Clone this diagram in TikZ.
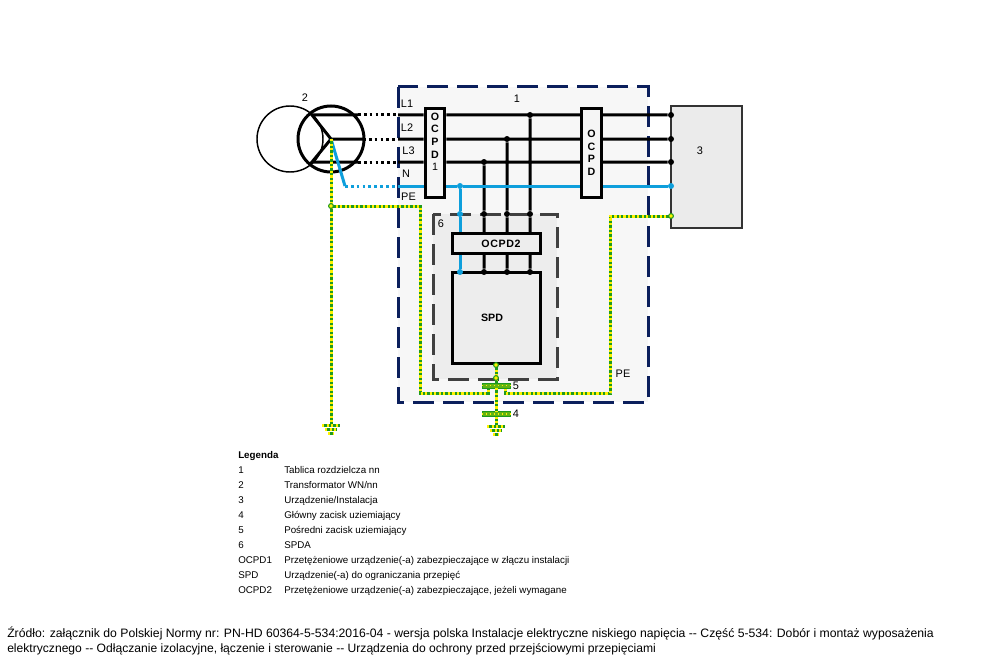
\documentclass[tikz,border=0pt]{standalone}
\usepackage{fontspec}
\setmainfont{Liberation Sans}
\definecolor{navyf}{HTML}{0B1F5C}
\definecolor{bluen}{HTML}{0E9FDC}
\definecolor{greenpe}{HTML}{1E9A1E}
\definecolor{yellowpe}{HTML}{FFF200}
\tikzset{
    box/.style={draw, line width=2.25pt, fill=black!4, inner sep=0pt, font=\bfseries\fontsize{8}{9.4}\selectfont, align=center},
    wire/.style={line width=2.25pt},
    open/.style={line width=2.25pt, dash pattern=on 2pt off 2.4pt},
    nwire/.style={line width=2.25pt, draw=bluen},
    pe/.style={line width=2.25pt, draw=yellowpe, dash pattern=on 1.7pt off 1.7pt,
        preaction={draw=greenpe, line width=2.25pt, dash pattern=on 1.7pt off 1.7pt, dash phase=1.7pt}},
    tap/.style={circle, fill=black, inner sep=0pt, minimum size=4.5pt},
    ntap/.style={tap, fill=bluen},
    petap/.style={circle, draw=greenpe, fill=yellowpe, line width=0.8pt, inner sep=0pt, minimum size=3.6pt},
    terminal/.style={rectangle, draw=greenpe, fill=greenpe!70!yellowpe, inner sep=0pt, minimum width=21pt, minimum height=3.6pt},
    lbl/.style={font=\fontsize{8.2}{10}\selectfont, inner sep=0pt},
    legend/.style={font=\fontsize{7.33}{8}\selectfont, inner sep=0pt, anchor=base west},
    foot/.style={inner sep=0pt, anchor=base west},
}
\begin{document}
\begin{tikzpicture}[x=0.75pt, y=-0.75pt]
    \useasboundingbox (0,0) rectangle (1000,667);
    % housings
    \draw[navyf, fill=black!3, line width=2.25pt, dash pattern=on 16pt off 6.5pt] (398,87) rectangle (648,402);
    \draw[black!75, fill=black!7, line width=2.25pt, dash pattern=on 15.5pt off 7pt] (433,214) rectangle (557,379);
    % transformer
    \node[circle, draw, line width=1.1pt, minimum size=49.5pt, inner sep=0pt] (tra) at (290,139) {};
    \node[circle, draw, line width=2.25pt, minimum size=49.5pt, inner sep=0pt] (trb) at (331,139) {};
    \coordinate (star) at (331,139);
    \coordinate (aa) at (312,115);
    \coordinate (ab) at (363,139);
    \coordinate (ac) at (312,162);
    \coordinate (ba) at (358,115);
    \coordinate (bb) at (363,139);
    \coordinate (bc) at (358,162);
    \coordinate (bn) at (345,186);
    \coordinate (ca) at (398,115);
    \coordinate (cb) at (398,139);
    \coordinate (cc) at (398,162);
    \coordinate (cn) at (398,186);
    % boxes
    \node[box, minimum width=14.8pt, minimum height=66.8pt] (ocpda) at (435,153) {};
    \node[box, minimum width=14.8pt, minimum height=66.8pt] (ocpdb) at (591.5,153) {O\\C\\P\\D};
    \node[box, fill=black!7, minimum width=66pt, minimum height=14.6pt] (ocpdc) at (496,243.7) {\hspace*{7.5pt}\addfontfeature{LetterSpace=6}OCPD2};
    \node[box, fill=black!7, minimum width=66pt, minimum height=68.5pt] (spd) at (496,318.3) {SPD\hspace*{6pt}};
    \node[rectangle, draw=black!80, line width=1.1pt, fill=black!8, minimum width=53.25pt, minimum height=91.5pt, inner sep=0pt] (dev) at (706.5,167) {};
    \node[box, draw=none, fill=none, anchor=north] (ocpdtxt) at (435,111.5) {O\\C\\P\\D\\\mdseries 1};
    % tap points
    \node[tap] (ta) at (530,115) {};
    \node[tap] (tb) at (507,139) {};
    \node[tap] (tc) at (484,162) {};
    \node[ntap] (tn) at (460,186) {};
    \node[tap] (da) at (671,115) {};
    \node[tap] (db) at (671,139) {};
    \node[tap] (dc) at (671,162) {};
    \node[ntap] (dn) at (671,186) {};
    \node[tap] (ua) at (530,214) {};
    \node[tap] (ub) at (507,214) {};
    \node[tap] (uc) at (484,214) {};
    \node[ntap] (un) at (460,214) {};
    \node[tap] (va) at (530,272) {};
    \node[tap] (vb) at (507,272) {};
    \node[tap] (vc) at (484,272) {};
    \node[ntap] (vn) at (460,272) {};
    % phase conductors
    \draw[wire]
    (star) -- (aa) -- (ba)
    (star) -- (ab)
    (star) -- (ac) -- (bc)
    (ca) -- (ocpda.west |- ca)
    (cb) -- (ocpda.west |- cb)
    (cc) -- (ocpda.west |- cc)
    (ocpda.east |- ca) -- (ocpdb.west |- ca)
    (ocpda.east |- cb) -- (ocpdb.west |- cb)
    (ocpda.east |- cc) -- (ocpdb.west |- cc)
    (ocpdb.east |- ca) -- (da)
    (ocpdb.east |- cb) -- (db)
    (ocpdb.east |- cc) -- (dc)
    (ta) -- (ua) -- (ocpdc.north -| ua)
    (tb) -- (ub) -- (ocpdc.north -| ub)
    (tc) -- (uc) -- (ocpdc.north -| uc)
    (ocpdc.south -| va) -- (va)
    (ocpdc.south -| vb) -- (vb)
    (ocpdc.south -| vc) -- (vc)
    ;
    \draw[open]
    (ba) -- (ca)
    (bb) -- (cb)
    (bc) -- (cc)
    ;
    % neutral
    \draw[nwire] (star) -- (bn);
    \draw[nwire, open] (bn) -- (cn);
    \draw[nwire]
    (cn) -- (ocpda.west |- cn)
    (ocpda.east |- cn) -- (tn)
    (tn) -- (ocpdb.west |- tn)
    (ocpdb.east |- tn) -- (dn)
    (tn) -- (un) -- (ocpdc.north -| un)
    (ocpdc.south -| vn) -- (vn)
    ;
    % protective earth
    \node[terminal] (mid) at (496,385.5) {};
    \node[terminal] (main) at (496,414) {};
    \coordinate (gnda) at (331,425);
    \coordinate (gndb) at (496,426);
    \coordinate (ra) at (488,393);
    \coordinate (rb) at (505,393);
    \coordinate (pc) at (496,365);
    \coordinate (pd) at (496,378);
    \coordinate (pa) at (331,206);
    \coordinate (pb) at (671,216);
    \draw[yellowpe, line width=1pt, dotted] (mid.west) -- (mid.east);
    \draw[yellowpe, line width=1pt, dotted] (main.west) -- (main.east);
    \draw[pe] (star) -- (pa) -- (gnda);
    \draw[pe] (pa) -- (420,206) -- (420,393) -- (ra) -- (mid.south -| ra);
    \draw[pe] (pb) -- (610,216) -- (610,393) -- (rb) -- (mid.south -| rb);
    \draw[pe] (pc) -- (pd) -- (mid) -- (main) -- (gndb);
    \draw[pe]
    (gnda) ++ (-9,0) -- ++ (18,0)
    (gnda) ++ (-6,4) -- ++ (12,0)
    (gnda) ++ (-3,8) -- ++ (6,0)
    (gndb) ++ (-9,0) -- ++ (18,0)
    (gndb) ++ (-6,4) -- ++ (12,0)
    (gndb) ++ (-3,8) -- ++ (6,0)
    ;
    \node[petap] (ea) at (pa) {};
    \node[petap] (eb) at (pb) {};
    \node[petap] (ec) at (pc) {};
    \node[petap] (ed) at (pd) {};
    % labels
    \node[lbl] (l1) at (407,104) {L1};
    \node[lbl] (l2) at (407,127.5) {L2};
    \node[lbl] (l3) at (408.5,151) {L3};
    \node[lbl] (ln) at (406,174) {N};
    \node[lbl] (lpe) at (408.5,197) {PE};
    \node[lbl] (n1) at (517,99) {1};
    \node[lbl] (n2) at (305,98) {2};
    \node[lbl] (n3) at (700,151) {3};
    \node[lbl] (n4) at (516,414) {4};
    \node[lbl] (n5) at (516,386) {5};
    \node[lbl] (n6) at (441,224) {6};
    \node[lbl] (lpeb) at (623,374) {PE};
    % legend
    \node[legend, font=\bfseries\fontsize{7.33}{8}\selectfont] (leg) at (238,458) {Legenda};
    \foreach \key/\txt [count=\i] in {
        1/Tablica rozdzielcza nn,
        2/Transformator WN\slash nn,
        3/Urządzenie\slash Instalacja,
        4/Główny zacisk uziemiający,
        5/Pośredni zacisk uziemiający,
        6/SPDA,
        OCPD1/Przetężeniowe urządzenie(-a) zabezpieczające w złączu instalacji,
        SPD/Urządzenie(-a) do ograniczania przepięć,
        OCPD2/{Przetężeniowe urządzenie(-a) zabezpieczające, jeżeli wymagane}}
    {
        \node[legend] (key\i) at (238,458+15*\i) {\key};
        \node[legend] (txt\i) at (284,458+15*\i) {\txt};
    }
    % source
    \node[foot, font=\fontsize{9.16}{11.3}\selectfont] (srca) at (7,637) {Źródło: załącznik do Polskiej Normy nr: PN-HD 60364-5-534:2016-04 - wersja polska Instalacje elektryczne niskiego napięcia -{}- Część 5-534: Dobór i montaż wyposażenia};
    \node[foot, font=\fontsize{9.08}{11.3}\selectfont] (srcb) at (7,652) {elektrycznego -{}- Odłączanie izolacyjne, łączenie i sterowanie -{}- Urządzenia do ochrony przed przejściowymi przepięciami};
\end{tikzpicture}
\end{document}
